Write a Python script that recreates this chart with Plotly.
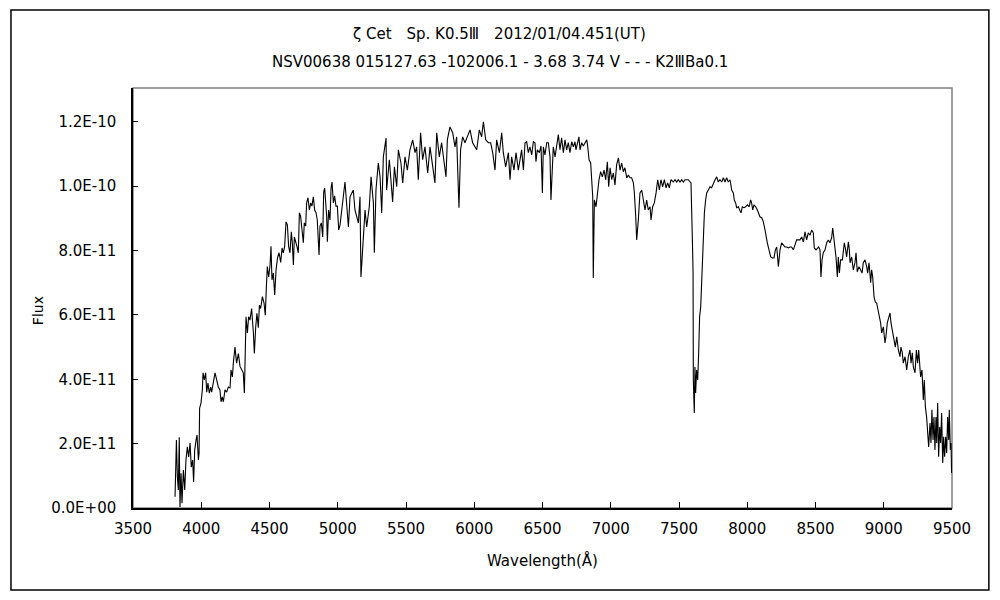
import numpy as np
import plotly.graph_objects as go

# spectrum, flux in units of 1E-11
wl_blue = [3808, 3813, 3818, 3825, 3832, 3839, 3844, 3852, 3859, 3869, 3879, 3888, 3898, 3908,
           3918, 3927, 3937, 3944, 3952, 3962, 3969, 3979, 3984, 3988, 3998, 4008, 4013, 4023,
           4032, 4040, 4049, 4059, 4069, 4076, 4089, 4101, 4113, 4125, 4137, 4145, 4154, 4162,
           4174, 4186, 4198, 4211, 4218, 4228, 4235, 4247, 4259, 4272, 4284, 4296, 4308, 4316,
           4323, 4328, 4338, 4347, 4357, 4369, 4382, 4389, 4399, 4408, 4418, 4426, 4435, 4448,
           4460, 4469, 4477, 4484, 4494, 4504, 4511, 4518, 4528, 4538, 4548, 4560, 4570, 4582,
           4592, 4601, 4611, 4621, 4631, 4640, 4650, 4660, 4667, 4675, 4682, 4692, 4701, 4711,
           4719, 4728, 4738, 4748, 4755, 4765, 4772, 4782, 4792, 4802, 4811, 4821, 4831, 4841,
           4850, 4863, 4870, 4880, 4890, 4897, 4904, 4911, 4919, 4924, 4933, 4943, 4951, 4958,
           4968, 4977, 4987, 4997, 5007]
flux_blue = [0.35, 1.18, 2.11, 0.97, 0.56, 2.2, 0.03, 1.08, 0.15, 1.18, 0.56, 1.49, 1.9, 1.59,
             2.02, 1.27, 1.49, 0.81, 1.8, 2.11, 2.27, 1.49, 1.7, 3.1, 3.26, 3.67, 4.2, 3.98,
             4.2, 3.6, 3.88, 3.57, 3.76, 3.6, 3.98, 4.2, 3.98, 3.76, 3.67, 3.3, 3.45, 3.3,
             3.67, 3.6, 3.76, 3.73, 4.29, 4.07, 4.5, 5.0, 4.5, 4.8, 4.4, 4.29, 4.2, 3.57,
             4.8, 5.94, 5.44, 5.94, 5.84, 6.2, 5.44, 4.8, 5.63, 6.05, 5.6, 6.3, 6.2, 6.57,
             6.37, 5.99, 6.87, 7.5, 7.18, 7.55, 8.13, 7.09, 7.3, 6.62, 7.4, 7.8, 7.93, 7.63,
             8.08, 7.93, 8.13, 8.89, 8.8, 8.13, 7.93, 8.58, 8.24, 7.55, 8.42, 8.3, 8.13, 7.93,
             9.17, 9.06, 8.55, 8.24, 8.86, 8.76, 9.48, 9.64, 9.26, 9.48, 9.38, 9.67, 9.26, 9.17,
             8.95, 7.86, 8.76, 8.86, 8.42, 9.82, 9.95, 9.48, 9.06, 8.27, 9.26, 8.95, 9.95, 10.13,
             9.48, 9.7, 9.38, 9.38, 8.64]

wl_green = [5017, 5053, 5078, 5090, 5114, 5126, 5151, 5163, 5170, 5183, 5200, 5212, 5231, 5244,
            5261, 5268, 5280, 5297, 5310, 5322, 5334, 5354, 5358, 5378, 5395, 5402, 5415, 5432,
            5444, 5463, 5476, 5493, 5510, 5529, 5549, 5566, 5578, 5590, 5607, 5622, 5639, 5659,
            5676, 5695, 5712, 5725, 5744, 5761, 5778, 5793, 5803, 5822, 5842, 5859, 5871, 5888,
            5900, 5915, 5932, 5949, 5969, 5988, 6005, 6018, 6037, 6054, 6067, 6084, 6103, 6120,
            6135, 6152, 6164, 6184, 6201, 6213, 6230, 6250, 6262, 6274, 6291, 6306, 6323]
flux_green = [8.8, 10.13, 8.73, 9.67, 9.88, 9.26, 8.86, 9.67, 7.18, 8.24, 9.26, 8.73, 9.36, 10.29,
              9.48, 7.93, 9.88, 10.72, 10.29, 9.17, 10.91, 11.5, 9.88, 10.82, 9.88, 9.51, 10.6, 9.98,
              11.13, 10.72, 10.1, 10.91, 10.5, 11.13, 11.44, 11.04, 11.22, 10.2, 11.66, 10.82, 11.22, 10.41,
              11.22, 10.6, 10.1, 11.66, 10.91, 11.35, 10.82, 10.29, 11.44, 11.84, 11.66, 11.22, 11.53, 9.33,
              11.13, 11.53, 11.35, 11.53, 11.75, 11.35, 11.22, 11.13, 11.75, 11.53, 12.0, 11.44, 11.35, 11.35,
              11.04, 10.5, 11.44, 11.04, 11.66, 11.04, 10.6, 11.04, 10.2, 10.91, 10.5, 11.04, 10.5]

wl_red = [6347, 6360, 6372, 6384, 6396, 6408, 6421, 6433, 6445, 6452, 6462, 6477, 6489, 6499,
          6506, 6518, 6531, 6543, 6555, 6562, 6572, 6579, 6592, 6604, 6616, 6628, 6640, 6653,
          6665, 6677, 6689, 6701, 6714, 6726, 6738, 6745, 6755, 6767, 6775, 6787, 6799, 6811,
          6824, 6831, 6841, 6853, 6860, 6868, 6872, 6880, 6892, 6902, 6914, 6926, 6938, 6951,
          6963, 6975, 6985, 6995, 7007, 7019, 7031, 7043, 7056, 7068, 7080, 7092, 7104, 7117,
          7129, 7141, 7153, 7166, 7173, 7183, 7190, 7202, 7214, 7227, 7239, 7251, 7263, 7275,
          7288, 7295, 7307, 7319, 7332, 7344, 7356, 7368, 7380, 7393, 7405, 7417, 7429, 7441,
          7458, 7471, 7483, 7495, 7507, 7520, 7532, 7544, 7556, 7568, 7581, 7588]
flux_red = [11.13, 10.5, 11.35, 11.38, 11.04, 11.22, 10.97, 11.38, 11.35, 10.76, 11.13, 11.04, 11.25, 9.79,
            11.22, 10.97, 11.35, 11.35, 10.91, 9.57, 10.82, 11.22, 10.91, 11.28, 11.6, 11.13, 11.5, 11.04,
            11.44, 11.13, 11.35, 11.04, 11.38, 11.22, 11.38, 11.13, 11.35, 11.53, 11.13, 11.35, 11.25, 11.35,
            11.44, 11.25, 10.82, 10.72, 10.2, 9.67, 7.15, 9.57, 9.36, 9.79, 10.2, 10.45, 10.29, 10.5,
            10.2, 10.76, 9.98, 10.57, 10.2, 10.41, 10.04, 10.66, 10.88, 10.5, 10.72, 10.45, 10.57, 10.26,
            10.35, 10.26, 10.26, 10.1, 9.79, 9.05, 8.33, 8.95, 9.79, 9.88, 9.48, 9.26, 9.57, 9.26,
            9.36, 8.95, 9.36, 9.48, 9.79, 10.2, 9.88, 10.2, 9.98, 10.2, 9.95, 10.1, 9.95, 10.2,
            10.13, 10.2, 10.13, 10.2, 10.13, 10.2, 10.13, 10.2, 10.2, 10.2, 10.13, 10.1]

wl_nir = [7598, 7603, 7605, 7612, 7617, 7622, 7629, 7637, 7644, 7651, 7659, 7666, 7671, 7678,
          7686, 7695, 7703, 7715, 7727, 7739, 7752, 7764, 7776, 7788, 7800, 7813, 7825, 7837,
          7849, 7861, 7874, 7886, 7898, 7905, 7915, 7922, 7935, 7947, 7954, 7964, 7976, 7988,
          8001, 8013, 8025, 8032, 8040, 8049, 8062, 8074, 8084, 8093, 8106, 8118, 8130, 8137,
          8147, 8154, 8162, 8172, 8184, 8196, 8206, 8216, 8228, 8240, 8252, 8264, 8277, 8289,
          8301, 8313, 8325, 8338, 8350, 8362]
flux_nir = [8.33, 7.3, 3.98, 2.95, 4.38, 3.57, 4.29, 3.98, 4.82, 5.94, 6.25, 6.99, 7.71, 8.42,
            9.17, 9.57, 9.79, 9.88, 9.98, 9.95, 10.1, 10.2, 10.29, 10.13, 10.2, 10.13, 10.26, 10.13,
            10.26, 10.13, 10.2, 9.88, 9.79, 9.57, 9.48, 9.33, 9.36, 9.26, 9.17, 9.36, 9.33, 9.36,
            9.42, 9.36, 9.57, 9.48, 9.26, 9.42, 9.36, 9.26, 9.17, 9.05, 9.02, 8.89, 8.64, 8.42,
            8.24, 8.11, 7.93, 7.8, 7.77, 7.77, 8.02, 8.11, 7.5, 8.02, 8.24, 8.18, 8.11, 8.11,
            8.08, 8.11, 8.11, 8.02, 8.18, 8.33]

wl_ir = [8386, 8399, 8411, 8423, 8435, 8447, 8460, 8472, 8484, 8491, 8504, 8513, 8523, 8533,
         8540, 8548, 8557, 8570, 8582, 8594, 8606, 8618, 8626, 8636, 8643, 8650, 8660, 8667,
         8675, 8684, 8697, 8704, 8711, 8721, 8728, 8741, 8748, 8753, 8765, 8777, 8789, 8797,
         8806, 8819, 8831, 8841, 8850, 8863, 8875, 8882, 8892, 8904, 8911, 8919, 8929, 8938,
         8948, 8960, 8968, 8977, 8985, 8997, 9009, 9016, 9026, 9036, 9046, 9053, 9063, 9075,
         9085, 9095, 9107, 9119, 9126, 9136, 9143, 9156, 9168, 9180, 9192, 9200, 9209, 9217,
         9229, 9239, 9248, 9256, 9263, 9270, 9280, 9290, 9297, 9305, 9314, 9322, 9329, 9339,
         9346, 9353, 9361, 9368, 9375, 9383, 9388, 9395, 9402, 9410, 9417, 9424, 9432, 9439,
         9446, 9454, 9461, 9468, 9476, 9480, 9488, 9493, 9497]
flux_ir = [8.33, 8.42, 8.27, 8.58, 8.33, 8.55, 8.48, 8.64, 8.55, 8.08, 8.02, 8.08, 8.11, 8.02,
           7.18, 7.71, 7.93, 8.02, 8.24, 8.33, 8.24, 8.39, 8.7, 8.33, 8.11, 7.8, 7.18, 7.8,
           7.3, 7.71, 7.71, 8.02, 8.24, 8.02, 7.8, 8.27, 8.02, 7.62, 7.8, 7.4, 7.62, 7.93,
           7.34, 7.5, 7.4, 7.3, 7.62, 7.71, 7.5, 7.3, 7.62, 7.0, 7.4, 7.18, 6.56, 6.4,
           6.37, 6.15, 5.94, 5.75, 5.44, 5.63, 5.13, 5.32, 5.75, 5.94, 6.06, 5.75, 5.53, 5.32,
           5.0, 5.32, 4.91, 4.7, 5.0, 4.82, 4.5, 4.7, 4.29, 4.7, 4.91, 4.5, 4.82, 4.38,
           4.2, 4.91, 4.5, 4.91, 4.38, 4.07, 4.29, 3.36, 3.98, 3.14, 2.83, 2.33, 1.9, 2.64,
           2.02, 3.05, 2.11, 2.83, 1.8, 2.83, 2.02, 3.26, 1.59, 2.52, 2.02, 2.95, 1.4, 2.21,
           1.59, 2.21, 1.71, 2.83, 2.11, 3.05, 1.8, 2.02, 1.09]

y_ticks = [0, 2e-11, 4e-11, 6e-11, 8e-11, 1e-10, 1.2e-10]
y_ticktext = ["0.0E+00", "2.0E-11", "4.0E-11", "6.0E-11", "8.0E-11", "1.0E-10", "1.2E-10"]

wl = np.concatenate([wl_blue, wl_green, wl_red, wl_nir, wl_ir])
flux = np.concatenate([flux_blue, flux_green, flux_red, flux_nir, flux_ir]) * 1e-11

FONT = "DejaVu Sans, Noto Sans CJK JP, sans-serif"

fig = go.Figure()
fig.add_trace(go.Scatter(
    x=wl, y=flux, mode="lines",
    line=dict(color="black", width=1.1),
    showlegend=False, hoverinfo="skip",
))

# grey frame of the plot area (top/right), outer chart border
fig.add_shape(type="rect", xref="paper", yref="paper", x0=0, y0=0, x1=1, y1=1,
              line=dict(color="#808080", width=1.5), layer="below")
fig.add_shape(type="rect", xref="paper", yref="paper",
              x0=-0.149, y0=-0.195, x1=1.045, y1=1.186,
              line=dict(color="black", width=1.5))

labels = [
    ("ζ Cet　Sp. K0.5Ⅲ　2012/01/04.451(UT)", 0.448, 1.129, 0, 15),
    ("NSV00638 015127.63 -102006.1 - 3.68 3.74 V - - - K2ⅢBa0.1", 0.448, 1.062, 0, 15),
    ("Wavelength(Å)", 0.5, -0.126, 0, 15),
    ("Flux", -0.116, 0.471, -90, 14),
]
for text, x, y, angle, size in labels:
    fig.add_annotation(text=text, xref="paper", yref="paper", x=x, y=y,
                       xanchor="center", yanchor="middle", textangle=angle,
                       showarrow=False, font=dict(size=size, color="black", family=FONT))

# page body has an 8px margin, so the figure is sized to fit the 1000x600 window
fig.update_layout(
    width=992, height=592,
    paper_bgcolor="white", plot_bgcolor="white",
    margin=dict(l=125, r=48, t=80, b=92),
    font=dict(family=FONT, size=15, color="black"),
    xaxis=dict(
        range=[3500, 9500], dtick=500, tick0=3500,
        showgrid=False, zeroline=False,
        showline=True, linecolor="black", linewidth=1.5,
        ticks="inside", ticklen=6, tickcolor="black",
        ticklabelstandoff=6,
    ),
    yaxis=dict(
        range=[0, 1.305e-10], tickvals=y_ticks, ticktext=y_ticktext,
        showgrid=False, zeroline=False,
        showline=True, linecolor="black", linewidth=1.5,
        ticks="inside", ticklen=5, tickcolor="black",
        ticklabelstandoff=12,
    ),
)

fig.write_html("out.html")
